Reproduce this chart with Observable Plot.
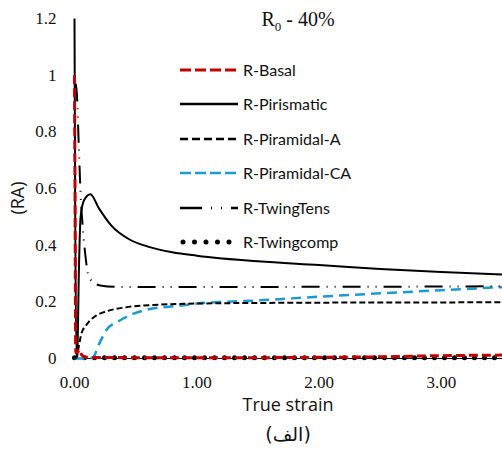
<!DOCTYPE html>
<html>
<head>
<meta charset="utf-8">
<script src="https://cdn.jsdelivr.net/npm/d3@7"></script>
<script src="https://cdn.jsdelivr.net/npm/@observablehq/plot@0.6"></script>
<style>
  body { margin: 0; background: #fff; }
  #wrap { position: relative; width: 502px; height: 450px; overflow: hidden; }
  #over { position: absolute; left: 0; top: 0; pointer-events: none; }
</style>
</head>
<body>
<div id="wrap"></div>
<script>
// ---- data ----
const seriesNames = ["R-Basal", "R-Pirismatic", "R-Piramidal-A", "R-Piramidal-CA", "R-TwingTens", "R-Twingcomp"];

const basalX = [0, 0.005, 0.01, 0.02, 0.04, 0.06, 0.1, 0.5, 1, 1.5, 2, 2.5, 3, 3.5];
const basalY = [1.0, 0.5, 0.02, 0.02, 0.03, 0.012, 0.004, 0.003, 0.003, 0.003, 0.004, 0.006, 0.01, 0.012];

const pirX = [0, 0.005, 0.015, 0.025, 0.035, 0.05, 0.08, 0.13, 0.2, 0.3, 0.45, 0.6, 0.8, 1.0, 1.5, 2.0, 2.5, 3.0, 3.5];
const pirY = [1.2, 0.6, 0.01, 0.05, 0.29, 0.5, 0.56, 0.58, 0.53, 0.47, 0.42, 0.395, 0.375, 0.363, 0.343, 0.33, 0.316, 0.305, 0.296];

const piraAX = [0, 0.02, 0.03, 0.057, 0.1, 0.18, 0.25, 0.41, 0.7, 1.0, 1.5, 2, 2.5, 3, 3.5];
const piraAY = [0, 0.005, 0.03, 0.088, 0.12, 0.152, 0.165, 0.18, 0.19, 0.194, 0.196, 0.197, 0.198, 0.198, 0.199];

const piraCAX = [0, 0.1, 0.15, 0.2, 0.26, 0.37, 0.57, 0.87, 1.0, 1.5, 2.0, 2.5, 3.0, 3.5];
const piraCAY = [0, 0, 0.003, 0.05, 0.1, 0.134, 0.17, 0.187, 0.194, 0.205, 0.218, 0.23, 0.241, 0.252];

const twTensX = [0.01, 0.02, 0.035, 0.05, 0.07, 0.09, 0.11, 0.15, 0.21, 0.4, 1, 2, 3, 3.5];
const twTensY = [0.97, 0.93, 0.75, 0.58, 0.45, 0.36, 0.3, 0.27, 0.258, 0.252, 0.252, 0.253, 0.254, 0.255];

const twCompX = [0, 0.02, 0.5, 1, 1.5, 2, 2.5, 3, 3.5];
const twCompY = [0.003, 0.003, 0.003, 0.003, 0.003, 0.003, 0.003, 0.003, 0.003];

const xTicks = [0, 1, 2, 3];
const xTickLabels = ["0.00", "1.00", "2.00", "3.00"];
const yTicks = [0, 0.2, 0.4, 0.6, 0.8, 1, 1.2];
const yTickLabels = ["0", "0.2", "0.4", "0.6", "0.8", "1", "1.2"];

const titleMain = "R";
const titleSub = "0";
const titleRest = " - 40%";
const xTitle = "True strain";
const xTitle2 = "(الف)";
const yTitle = "(RA)";

// ---- styles ----
const styles = {
  "R-Basal":        {stroke: "#c00000", strokeWidth: 3,   dash: "9,4",   cap: "butt"},
  "R-Pirismatic":   {stroke: "#000",    strokeWidth: 2,   dash: null,    cap: "butt"},
  "R-Piramidal-A":  {stroke: "#000",    strokeWidth: 2,   dash: "6,3",   cap: "butt"},
  "R-Piramidal-CA": {stroke: "#1e9ad0", strokeWidth: 2.5, dash: "10,6",  cap: "butt"},
  "R-TwingTens":    {stroke: "#000",    strokeWidth: 2,   dash: "18,7,1,7,1,7", cap: "butt"},
  "R-Twingcomp":    {stroke: "#000",    strokeWidth: 5,   dash: "0,10",  cap: "round"}
};

const toRows = (xs, ys) => xs.map((x, i) => ({x, y: ys[i]}));
const seriesData = {
  "R-Basal": toRows(basalX, basalY),
  "R-Pirismatic": toRows(pirX, pirY),
  "R-Piramidal-A": toRows(piraAX, piraAY),
  "R-Piramidal-CA": toRows(piraCAX, piraCAY),
  "R-TwingTens": toRows(twTensX, twTensY),
  "R-Twingcomp": toRows(twCompX, twCompY)
};

const drawOrder = ["R-Twingcomp", "R-Piramidal-CA", "R-Piramidal-A", "R-TwingTens", "R-Pirismatic", "R-Basal"];

const lineMarks = drawOrder.map(name => {
  const s = styles[name];
  return Plot.line(seriesData[name], {
    x: "x", y: "y",
    stroke: s.stroke, strokeWidth: s.strokeWidth,
    strokeDasharray: s.dash || undefined,
    strokeLinecap: s.cap, strokeLinejoin: "round",
    curve: "monotone-x"
  });
});

const chart = Plot.plot({
  width: 502,
  height: 450,
  marginLeft: 74,
  marginRight: 0,
  marginTop: 18,
  marginBottom: 92,
  style: {fontSize: "17px", fontFamily: "Liberation Serif", color: "#111", background: "#fff"},
  x: {domain: [0, 3.5]},
  y: {domain: [0, 1.2]},
  marks: [
    Plot.axisX({ticks: xTicks, tickFormat: d => xTickLabels[xTicks.indexOf(d)], tickSize: 0, tickPadding: 17, label: null}),
    Plot.axisY({ticks: yTicks, tickFormat: d => yTickLabels[yTicks.indexOf(d)], tickSize: 0, tickPadding: 18, label: null}),
    Plot.ruleY([0], {stroke: "#000", strokeWidth: 1}),
    ...lineMarks
  ]
});
document.getElementById("wrap").appendChild(chart);

// ---- overlay: title, axis titles, legend ----
const over = d3.select("#wrap").append("svg")
  .attr("id", "over").attr("width", 502).attr("height", 450);

const t = over.append("text")
  .attr("x", 298).attr("y", 26).attr("text-anchor", "middle")
  .attr("font-family", "Liberation Serif").attr("font-size", 20).attr("fill", "#111");
t.append("tspan").text(titleMain);
t.append("tspan").attr("font-size", 13).attr("dy", 5).text(titleSub);
t.append("tspan").attr("dy", -5).text(titleRest);

over.append("text").attr("x", 288).attr("y", 411).attr("text-anchor", "middle")
  .attr("font-family", "Open Sans").attr("font-size", 18).attr("fill", "#111").text(xTitle);
over.append("text").attr("x", 288).attr("y", 441).attr("text-anchor", "middle")
  .attr("font-family", "DejaVu Sans").attr("font-size", 19).attr("fill", "#111").text(xTitle2);
over.append("text").attr("transform", "translate(24,198) rotate(-90)").attr("text-anchor", "middle")
  .attr("font-family", "Open Sans").attr("font-size", 18).attr("fill", "#111").text(yTitle);

const legendRows = [70, 104, 139, 173, 208, 242];
seriesNames.forEach((name, i) => {
  const s = styles[name];
  const y = legendRows[i];
  over.append("line").attr("x1", name === "R-Twingcomp" ? 183 : 180).attr("x2", 238).attr("y1", y).attr("y2", y)
    .attr("stroke", s.stroke).attr("stroke-width", name === "R-Twingcomp" ? 5 : Math.max(2.5, s.strokeWidth))
    .attr("stroke-dasharray", name === "R-TwingTens" ? "22,9,1,9,1,9" : (name === "R-Twingcomp" ? "0,11.5" : (s.dash ? (name === "R-Piramidal-A" ? "8,4" : "11,4") : null)))
    .attr("stroke-linecap", s.cap);
  over.append("text").attr("x", 243).attr("y", y).attr("dy", "0.35em")
    .attr("font-family", "Lato").attr("font-size", 16).attr("fill", "#111").text(name);
});
</script>
</body>
</html>
